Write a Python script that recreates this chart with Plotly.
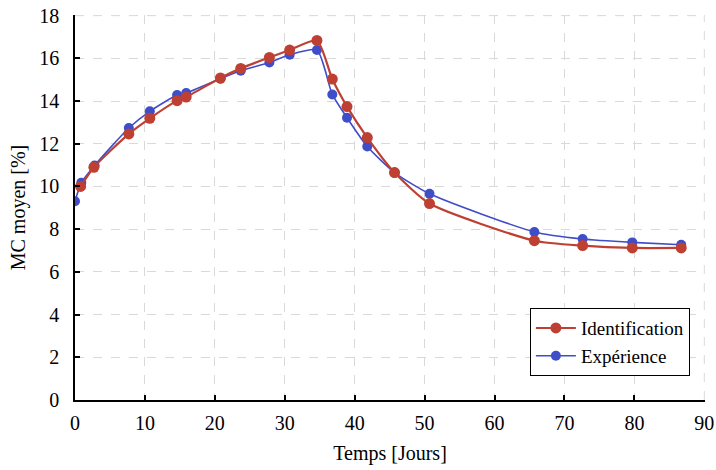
import plotly.graph_objects as go

# Data
days_exp = [0.0, 0.9, 2.8, 7.7, 10.7, 14.6, 15.9, 20.8, 23.7, 27.8, 30.7, 34.6, 36.8, 38.9, 41.8, 45.7, 50.7, 65.7, 72.6, 79.7, 86.7]
mc_exp = [9.31, 10.17, 10.98, 12.74, 13.52, 14.28, 14.38, 15.05, 15.42, 15.81, 16.17, 16.39, 14.31, 13.22, 11.87, 10.65, 9.66, 7.87, 7.54, 7.38, 7.27]

days_id = [0.8, 2.7, 7.7, 10.7, 14.6, 15.9, 20.8, 23.7, 27.8, 30.7, 34.6, 36.8, 38.9, 41.8, 45.7, 50.7, 65.7, 72.6, 79.7, 86.7]
mc_id = [10.0, 10.9, 12.46, 13.19, 14.02, 14.19, 15.08, 15.53, 16.04, 16.39, 16.84, 15.03, 13.74, 12.29, 10.65, 9.2, 7.46, 7.23, 7.12, 7.12]

x_ticks = [0, 10, 20, 30, 40, 50, 60, 70, 80, 90]
y_ticks = [0, 2, 4, 6, 8, 10, 12, 14, 16, 18]

RED = "#BE4033"
BLUE = "#3F4DC9"
GRID = "#d9d9d9"
FONT = "Liberation Serif"

fig = go.Figure()
fig.add_trace(go.Scatter(
    x=days_exp, y=mc_exp, mode="lines+markers", name="Expérience",
    line=dict(color=BLUE, width=1.6, shape="spline", smoothing=0.6),
    marker=dict(color=BLUE, size=10), legendrank=2,
))
fig.add_trace(go.Scatter(
    x=days_id, y=mc_id, mode="lines+markers", name="Identification",
    line=dict(color=RED, width=2.2, shape="spline", smoothing=0.6),
    marker=dict(color=RED, size=11), legendrank=1,
))

grid = dict(showgrid=True, gridcolor=GRID, griddash="dash", gridwidth=1,
            showline=True, linecolor="black", linewidth=1.5,
            ticks="inside", ticklen=5, tickwidth=1.5, tickcolor="black",
            zeroline=False, automargin=False, ticklabeloverflow="allow",
            tickfont=dict(family=FONT, size=20, color="black"))

fig.update_layout(
    width=716, height=470,
    margin=dict(l=75, r=11, t=15, b=70),
    paper_bgcolor="white", plot_bgcolor="white",
    font=dict(family=FONT, size=20, color="black"),
    xaxis=dict(range=[0, 90.1], tickvals=x_ticks, ticklabelstandoff=4,
               title=dict(text="Temps [Jours]", font=dict(family=FONT, size=20), standoff=13),
               **grid),
    yaxis=dict(range=[0, 18.03], tickvals=y_ticks, ticklabelstandoff=10,
               title=dict(text="MC moyen [%]", font=dict(family=FONT, size=20), standoff=8),
               **grid),
    legend=dict(x=0.976, y=0.062, xanchor="right", yanchor="bottom",
                bordercolor="black", borderwidth=1, bgcolor="white",
                itemwidth=40,
                font=dict(family=FONT, size=19), tracegroupgap=0),
    showlegend=True,
)

# edge gridlines (plotly omits gridlines at the range ends)
fig.add_shape(type="line", xref="paper", x0=0, x1=1, yref="y", y0=y_ticks[-1], y1=y_ticks[-1],
              line=dict(color=GRID, width=1, dash="dash"), layer="below")
fig.add_shape(type="line", xref="x", x0=x_ticks[-1], x1=x_ticks[-1], yref="paper", y0=0, y1=1,
              line=dict(color=GRID, width=1, dash="dash"), layer="below")

fig.write_html("out.html", config={"displayModeBar": False},
               post_script="document.body.style.margin='0';")
